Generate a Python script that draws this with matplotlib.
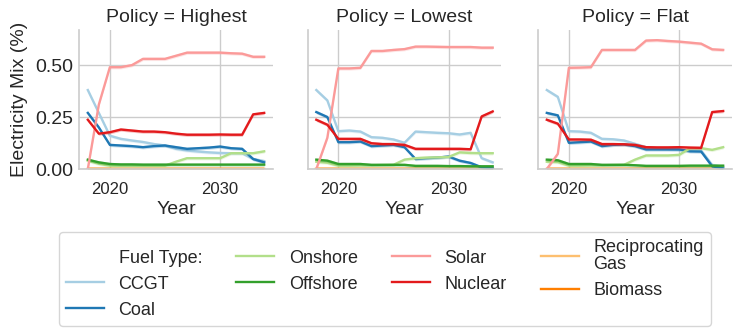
import matplotlib
matplotlib.use('Agg')
from matplotlib import pyplot as plt
from matplotlib.lines import Line2D

plt.rcParams['font.family'] = ['Liberation Sans', 'DejaVu Sans']
plt.rcParams['text.color'] = '#262626'
plt.rcParams['axes.labelcolor'] = '#262626'
plt.rcParams['xtick.color'] = '#262626'
plt.rcParams['ytick.color'] = '#262626'

# 数据
years = list(range(2018, 2035))
policies = ['Highest', 'Lowest', 'Flat']
fuels = ['CCGT', 'Coal', 'Onshore', 'Offshore', 'Solar', 'Nuclear', 'Reciprocating\nGas', 'Biomass']
colors = ['#a6cee3', '#1f78b4', '#b2df8a', '#33a02c', '#fb9a99', '#e31a1c', '#fdbf6f', '#ff7f00']

highest_ccgt = [0.38, 0.27, 0.16, 0.145, 0.137, 0.13, 0.12, 0.113, 0.097, 0.089, 0.084, 0.08, 0.077, 0.076, 0.076, 0.048, 0.038]
highest_coal = [0.27, 0.20, 0.116, 0.113, 0.11, 0.105, 0.11, 0.113, 0.105, 0.097, 0.10, 0.103, 0.108, 0.10, 0.097, 0.048, 0.032]
highest_onshore = [0.04, 0.025, 0.016, 0.016, 0.016, 0.016, 0.016, 0.016, 0.035, 0.052, 0.052, 0.052, 0.052, 0.076, 0.076, 0.076, 0.085]
highest_offshore = [0.045, 0.032, 0.024, 0.022, 0.022, 0.021, 0.021, 0.021, 0.021, 0.021, 0.021, 0.021, 0.021, 0.021, 0.021, 0.021, 0.021]
highest_solar = [0.0, 0.31, 0.49, 0.49, 0.50, 0.53, 0.53, 0.53, 0.545, 0.56, 0.56, 0.56, 0.56, 0.557, 0.555, 0.54, 0.54]
highest_nuclear = [0.237, 0.17, 0.177, 0.19, 0.185, 0.18, 0.18, 0.177, 0.17, 0.165, 0.165, 0.165, 0.166, 0.165, 0.165, 0.263, 0.27]

lowest_ccgt = [0.38, 0.33, 0.182, 0.185, 0.18, 0.153, 0.15, 0.142, 0.126, 0.18, 0.177, 0.174, 0.172, 0.166, 0.174, 0.052, 0.032]
lowest_coal = [0.274, 0.25, 0.129, 0.129, 0.132, 0.11, 0.113, 0.116, 0.105, 0.048, 0.052, 0.055, 0.06, 0.04, 0.029, 0.008, 0.003]
lowest_onshore = [0.035, 0.03, 0.016, 0.016, 0.017, 0.018, 0.019, 0.02, 0.045, 0.052, 0.055, 0.056, 0.058, 0.08, 0.077, 0.076, 0.076]
lowest_offshore = [0.045, 0.04, 0.024, 0.024, 0.024, 0.02, 0.02, 0.02, 0.02, 0.015, 0.015, 0.015, 0.014, 0.014, 0.013, 0.013, 0.013]
lowest_solar = [0.0, 0.15, 0.484, 0.484, 0.487, 0.568, 0.568, 0.573, 0.577, 0.589, 0.589, 0.588, 0.587, 0.587, 0.587, 0.584, 0.584]
lowest_nuclear = [0.237, 0.213, 0.145, 0.145, 0.145, 0.124, 0.12, 0.12, 0.116, 0.097, 0.097, 0.097, 0.097, 0.097, 0.095, 0.253, 0.277]

flat_ccgt = [0.38, 0.347, 0.182, 0.18, 0.174, 0.145, 0.143, 0.137, 0.121, 0.105, 0.10, 0.097, 0.094, 0.089, 0.089, 0.02, 0.01]
flat_coal = [0.27, 0.258, 0.126, 0.129, 0.132, 0.11, 0.116, 0.118, 0.11, 0.094, 0.094, 0.094, 0.094, 0.085, 0.084, 0.013, 0.003]
flat_onshore = [0.035, 0.033, 0.016, 0.016, 0.017, 0.018, 0.019, 0.02, 0.045, 0.065, 0.065, 0.065, 0.068, 0.10, 0.10, 0.092, 0.105]
flat_offshore = [0.045, 0.042, 0.024, 0.024, 0.024, 0.02, 0.02, 0.02, 0.018, 0.015, 0.015, 0.015, 0.015, 0.016, 0.016, 0.016, 0.016]
flat_solar = [0.0, 0.073, 0.487, 0.488, 0.49, 0.573, 0.573, 0.573, 0.573, 0.618, 0.62, 0.616, 0.613, 0.608, 0.603, 0.576, 0.573]
flat_nuclear = [0.237, 0.218, 0.142, 0.142, 0.141, 0.12, 0.12, 0.119, 0.116, 0.105, 0.104, 0.104, 0.105, 0.103, 0.102, 0.274, 0.279]

recip_gas = [0.0] * len(years)
biomass = [0.0] * len(years)

data = {
    'Highest': [highest_ccgt, highest_coal, highest_onshore, highest_offshore, highest_solar, highest_nuclear, recip_gas, biomass],
    'Lowest': [lowest_ccgt, lowest_coal, lowest_onshore, lowest_offshore, lowest_solar, lowest_nuclear, recip_gas, biomass],
    'Flat': [flat_ccgt, flat_coal, flat_onshore, flat_offshore, flat_solar, flat_nuclear, recip_gas, biomass],
}

band = 0.008  # 置信区间带宽（仅用于外观）
grid_c = '#cccccc'

fig = plt.figure(figsize=(7.48, 3.34), dpi=100)
lefts = [79 / 748, 307.5 / 748, 538 / 748]
for i, pol in enumerate(policies):
    ax = fig.add_axes([lefts[i], 1 - 169 / 334, 194 / 748, 139 / 334])
    zs = [2, 2.1, 2.2, 2.3, 2.4, 2.5, 2.05, 1.9]
    for k, fuel in enumerate(fuels):
        y = data[pol][k]
        lo = [v - band for v in y]
        hi = [v + band for v in y]
        ax.fill_between(years, lo, hi, color=colors[k], alpha=0.25, lw=0, zorder=zs[k])
        ax.plot(years, y, color=colors[k], lw=1.7, zorder=zs[k] + 0.01)
    ax.set_xlim(2017.2, 2034.8)
    ax.set_ylim(0, 0.669)
    ax.set_xticks([2020, 2030])
    ax.set_yticks([0.0, 0.25, 0.5])
    ax.grid(True, color=grid_c, lw=1)
    ax.set_axisbelow(True)
    for s in ['top', 'right']:
        ax.spines[s].set_visible(False)
    for s in ['left', 'bottom']:
        ax.spines[s].set_color(grid_c)
        ax.spines[s].set_linewidth(1.2)
    ax.tick_params(axis='x', length=0, labelsize=12, pad=9)
    ax.tick_params(axis='y', length=0, labelsize=14, pad=4)
    ax.set_xlabel('Year', fontsize=14, labelpad=3)
    ax.set_title('Policy = ' + pol, fontsize=14, pad=6)
    if i == 0:
        ax.set_yticklabels(['0.00', '0.25', '0.50'])
        ax.set_ylabel('Electricity Mix (%)', fontsize=14, labelpad=5)
    else:
        ax.set_yticklabels([])

# 图例
handles = [Line2D([], [], color='none')]
labels = ['Fuel Type:']
for k, fuel in enumerate(fuels):
    handles.append(Line2D([], [], color=colors[k], lw=1.7))
    labels.append(fuel)
leg = fig.legend(handles, labels, loc='upper left', bbox_to_anchor=(59 / 748, 1 - 232 / 334),
                 borderaxespad=0, ncol=4, fontsize=13, handlelength=2.1, handletextpad=0.8,
                 columnspacing=1.9, frameon=True, fancybox=True, borderpad=0.4, labelspacing=0.5)
leg.get_frame().set_edgecolor(grid_c)
leg.get_frame().set_linewidth(1.0)
for t in leg.get_texts():
    t.set_linespacing(1.0)

plt.savefig('out.png', dpi=100)
